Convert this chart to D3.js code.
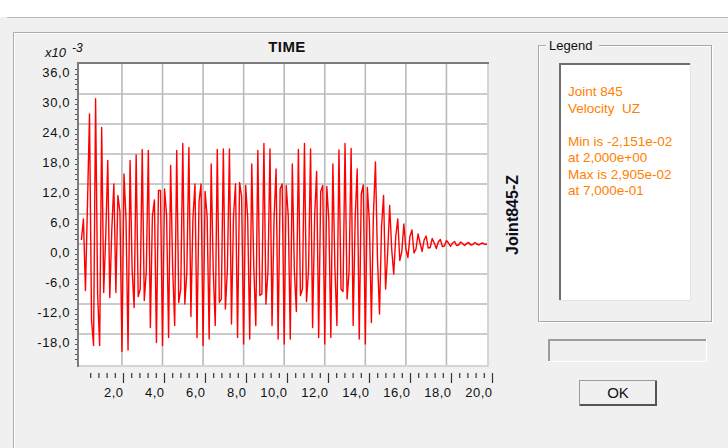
<!DOCTYPE html>
<html>
<head>
<meta charset="utf-8">
<script src="https://cdn.jsdelivr.net/npm/d3@7"></script>
<style>
  body { margin: 0; background: #f0f0f0; }
  text { font-family: "Liberation Sans", Arial, sans-serif; }
</style>
</head>
<body>
<script>
// Sample step of the time history (s).
const dt = 0.1;

// Joint 845 velocity UZ, in units of 1e-3, one value per time step (0 .. 20 s).
const velocity = [
   0.8,   5.0,  -9.3,   8.0,  26.0, -15.3, -20.3, 29.05, -10.0, -20.3,
  23.3,  -9.7,   1.5,  16.7, -10.7,   3.0,  12.0,  -9.7,   9.7,   6.5,
 -21.51, 14.0,   5.0, -21.2,  16.7,  -5.0, -12.7,  17.8, -10.5,  -9.0,
  18.9, -11.3,  -5.5,  18.7, -16.7,   5.5,   8.8, -19.7,  10.7,  10.7,
 -20.3,  11.0,   5.8, -18.7,  15.7,  -4.8, -16.3,  18.7, -11.7,  -9.0,
  20.1, -12.0,  -5.6,  19.3, -14.5,   5.2,  12.0, -18.7,   8.5,  12.0,
 -20.3,  10.5,   5.5, -19.0,  16.0,  -5.2, -16.3,  18.9, -11.7, -11.0,
  19.0, -13.0,  -5.0,  19.0, -16.0,   5.6,  12.0, -18.7,  12.3,   9.5,
 -20.0,  11.7,   5.2, -19.0,  16.0,  -4.6, -16.3,  18.7, -10.3, -10.0,
  20.1, -12.0,  -5.4,  19.0, -16.3,   5.0,  15.0, -19.0,  11.0,  12.0,
 -20.0,  11.7,   5.6, -19.0,  16.0,  -5.3, -13.5,  18.9, -10.3,  -9.0,
  20.1, -11.5,  -5.2,  19.0, -16.7,   5.4,  14.5, -18.7,  10.5,  11.7,
 -20.0,  11.5,   5.0, -18.7,  16.0,  -4.8, -16.3,  18.8,  -9.0,  -9.5,
  20.1, -11.0,  -5.5,  19.1, -16.3,   5.2,  15.0, -19.0,  10.0,  11.8,
 -20.0,  11.3,   4.5, -15.7,   6.0,  16.4,  -3.0, -14.0,   3.5,   9.7,
  -9.0,  -2.0,   7.7,  -1.0,  -6.0,   1.5,   5.0,  -3.3,  -1.5,   4.0,
  -1.0,  -2.7,   1.5,   2.8,  -1.8,  -1.0,   2.0,   0.2,  -1.5,   0.8,
   1.6,  -0.8,  -0.7,   1.1,   0.2,  -0.9,   0.4,   0.9,  -0.5,  -0.4,
   0.7,   0.2,  -0.5,   0.2,   0.5,  -0.3,  -0.2,   0.4,   0.1,  -0.3,
   0.1,   0.3,  -0.2,  -0.1,   0.3,   0.0,  -0.2,   0.1,   0.2,  -0.1,
   0.0
];

// Axis ticks.
const timeTicks = [2, 4, 6, 8, 10, 12, 14, 16, 18, 20];
const valueTicks = [-18, -12, -6, 0, 6, 12, 18, 24, 30, 36];

// Legend texts.
const legendLines = ['Joint 845', 'Velocity  UZ', '', 'Min is -2,151e-02', 'at 2,000e+00', 'Max is 2,905e-02', 'at 7,000e-01'];

// Comma decimal, plain hyphen minus.
const fmt = d3.formatLocale({ decimal: ',', thousands: '.', grouping: [3], currency: ['', ''], minus: '-' }).format('.1f');

const svg = d3.select('body')
    .append('svg')
    .attr('width', 728)
    .attr('height', 448);

// Dialog background and panel edges.
svg.append('rect').attr('width', 728).attr('height', 448).attr('fill', '#f0f0f0');
svg.append('rect').attr('width', 728).attr('height', 17).attr('fill', '#ffffff');
svg.append('line').attr('x1', 7).attr('x2', 728).attr('y1', 17.5).attr('y2', 17.5).attr('stroke', '#b8b8c4');
svg.append('path').attr('d', 'M13.5,448V32.5H728').attr('fill', 'none').attr('stroke', '#acacac');
svg.append('path').attr('d', 'M14.5,448V33.5H728').attr('fill', 'none').attr('stroke', '#ffffff');

// Plot box.
const plotLeft = 78, plotRight = 488, plotTop = 63, plotBottom = 366;

const x = d3.scaleLinear().domain([0, 20]).range([81.4, 487]);
const y = d3.scaleLinear().domain([-24, 36]).range([364, 64]);
// The tick ruler under the plot is a little wider than the grid.
const xTick = d3.scaleLinear().domain([0, 20]).range([82, 492]);

svg.append('rect')
    .attr('x', plotLeft).attr('y', plotTop)
    .attr('width', plotRight - plotLeft).attr('height', plotBottom - plotTop)
    .attr('fill', '#ffffff');

// Grid.
const grid = svg.append('g').attr('stroke', '#bababa').attr('stroke-width', 1.6);
grid.selectAll('.vg')
    .data(timeTicks.filter(d => d < 20))
    .join('line')
        .attr('x1', d => x(d)).attr('x2', d => x(d))
        .attr('y1', plotTop).attr('y2', plotBottom);
grid.selectAll('.hg')
    .data(valueTicks.filter(d => d < 36))
    .join('line')
        .attr('x1', plotLeft).attr('x2', plotRight)
        .attr('y1', d => y(d)).attr('y2', d => y(d));

// Velocity trace.
const line = d3.line()
    .x((d, i) => x(i * dt))
    .y(d => y(d));

svg.append('path')
    .datum(velocity)
    .attr('d', line)
    .attr('fill', 'none')
    .attr('stroke', '#ff0000')
    .attr('stroke-width', 1.4)
    .attr('stroke-linejoin', 'round');

// Sunken frame around the plot.
svg.append('line').attr('x1', plotRight).attr('x2', plotRight).attr('y1', plotTop).attr('y2', plotBottom + 1).attr('stroke', '#d6d6d6').attr('stroke-width', 2);
svg.append('line').attr('x1', plotLeft).attr('x2', plotRight + 1).attr('y1', plotBottom).attr('y2', plotBottom).attr('stroke', '#d6d6d6').attr('stroke-width', 2);
svg.append('line').attr('x1', plotLeft - 1).attr('x2', plotRight + 1).attr('y1', plotTop).attr('y2', plotTop).attr('stroke', '#7c7c7c').attr('stroke-width', 2);
svg.append('line').attr('x1', plotLeft).attr('x2', plotLeft).attr('y1', plotTop - 1).attr('y2', plotBottom + 1).attr('stroke', '#7c7c7c').attr('stroke-width', 2);

// Y axis: small ticks every unit, labels under each grid line.
const yMinor = svg.append('g')
    .attr('transform', `translate(${plotLeft - 1},0)`)
    .call(d3.axisLeft(y).tickValues(d3.range(-23, 36).filter(d => d % 6 !== 0)).tickSize(2).tickFormat(''));
yMinor.select('.domain').remove();
yMinor.selectAll('line').attr('stroke', '#555');

const yAxis = svg.append('g')
    .attr('transform', 'translate(70,0)')
    .call(d3.axisLeft(y).tickValues(valueTicks).tickSize(0).tickPadding(0).tickFormat(fmt));
yAxis.select('.domain').remove();
yAxis.selectAll('text')
    .attr('dy', 12)
    .attr('font-size', '13px')
    .attr('letter-spacing', '0.6px')
    .attr('font-family', '"Liberation Sans", Arial, sans-serif')
    .attr('fill', '#111');

// X ruler: minor ticks every 0.4 s, majors with labels every 2 s.
const xMinor = svg.append('g')
    .attr('transform', 'translate(0,373)')
    .call(d3.axisBottom(xTick).tickValues(d3.range(1, 51).map(d => d * 0.4).filter(d => Math.abs(d / 2 - Math.round(d / 2)) > 0.01)).tickSize(5).tickFormat(''));
xMinor.select('.domain').remove();
xMinor.selectAll('line').attr('stroke', '#333').attr('stroke-width', 1.2);

const xAxis = svg.append('g')
    .attr('transform', 'translate(0,373)')
    .call(d3.axisBottom(xTick).tickValues(timeTicks).tickSize(10).tickFormat(fmt));
xAxis.select('.domain').remove();
xAxis.selectAll('line').attr('stroke', '#333').attr('stroke-width', 1.2);
xAxis.selectAll('text')
    .attr('text-anchor', 'end')
    .attr('x', 0)
    .attr('y', 24)
    .attr('dy', 0)
    .attr('font-size', '13px')
    .attr('letter-spacing', '0.5px')
    .attr('font-family', '"Liberation Sans", Arial, sans-serif')
    .attr('fill', '#111');

// Titles.
svg.append('text')
    .attr('x', 287).attr('y', 52)
    .attr('text-anchor', 'middle')
    .attr('font-size', '15px')
    .attr('font-weight', 'bold')
    .attr('letter-spacing', '0.4px')
    .attr('fill', '#111')
    .text('TIME');

svg.append('text')
    .attr('x', 45).attr('y', 57)
    .attr('font-size', '13px')
    .attr('font-style', 'italic')
    .attr('fill', '#111')
    .text('x10');
svg.append('text')
    .attr('x', 72).attr('y', 52)
    .attr('font-size', '12px')
    .attr('font-style', 'italic')
    .attr('fill', '#111')
    .text('-3');

svg.append('text')
    .attr('transform', 'translate(518,215) rotate(-90)')
    .attr('text-anchor', 'middle')
    .attr('font-size', '16px')
    .attr('font-weight', 'bold')
    .attr('fill', '#0d0d1a')
    .text('Joint845-Z');

// Legend group box.
svg.append('rect').attr('x', 539.5).attr('y', 46.5).attr('width', 173).attr('height', 276).attr('fill', 'none').attr('stroke', '#ffffff');
svg.append('rect').attr('x', 538.5).attr('y', 45.5).attr('width', 173).attr('height', 276).attr('fill', 'none').attr('stroke', '#a8a8a8');
svg.append('rect').attr('x', 546).attr('y', 38).attr('width', 53).attr('height', 14).attr('fill', '#f0f0f0');
svg.append('text')
    .attr('x', 549).attr('y', 50)
    .attr('font-size', '13px')
    .attr('fill', '#111')
    .text('Legend');

svg.append('rect').attr('x', 559).attr('y', 63).attr('width', 132).attr('height', 238).attr('fill', '#ffffff');
svg.append('path').attr('d', 'M560,301V64H691').attr('fill', 'none').attr('stroke', '#6e6e6e').attr('stroke-width', 2);
svg.append('path').attr('d', 'M559,300.5H690.5V63').attr('fill', 'none').attr('stroke', '#e3e3e3');

svg.append('g')
    .selectAll('text')
    .data(legendLines)
    .join('text')
        .attr('x', 568)
        .attr('y', (d, i) => 96 + i * 16.5)
        .attr('font-size', '13.5px')
        .attr('fill', '#ff8000')
        .style('white-space', 'pre')
        .text(d => d);

// Progress box.
svg.append('rect').attr('x', 548).attr('y', 339).attr('width', 159).attr('height', 23).attr('fill', '#f0f0f0');
svg.append('path').attr('d', 'M549,362V340H707').attr('fill', 'none').attr('stroke', '#9c9c9c').attr('stroke-width', 2);
svg.append('path').attr('d', 'M548,361.5H706.5V339').attr('fill', 'none').attr('stroke', '#ffffff');

// OK button.
svg.append('rect').attr('x', 579.5).attr('y', 380.5).attr('width', 77).attr('height', 25).attr('fill', '#f0f0f0').attr('stroke', '#9a9a9a');
svg.append('path').attr('d', 'M580,405H656V381').attr('fill', 'none').attr('stroke', '#555555').attr('stroke-width', 2);
svg.append('text')
    .attr('x', 618).attr('y', 398)
    .attr('text-anchor', 'middle')
    .attr('font-size', '15px')
    .attr('fill', '#111')
    .text('OK');
</script>
</body>
</html>
